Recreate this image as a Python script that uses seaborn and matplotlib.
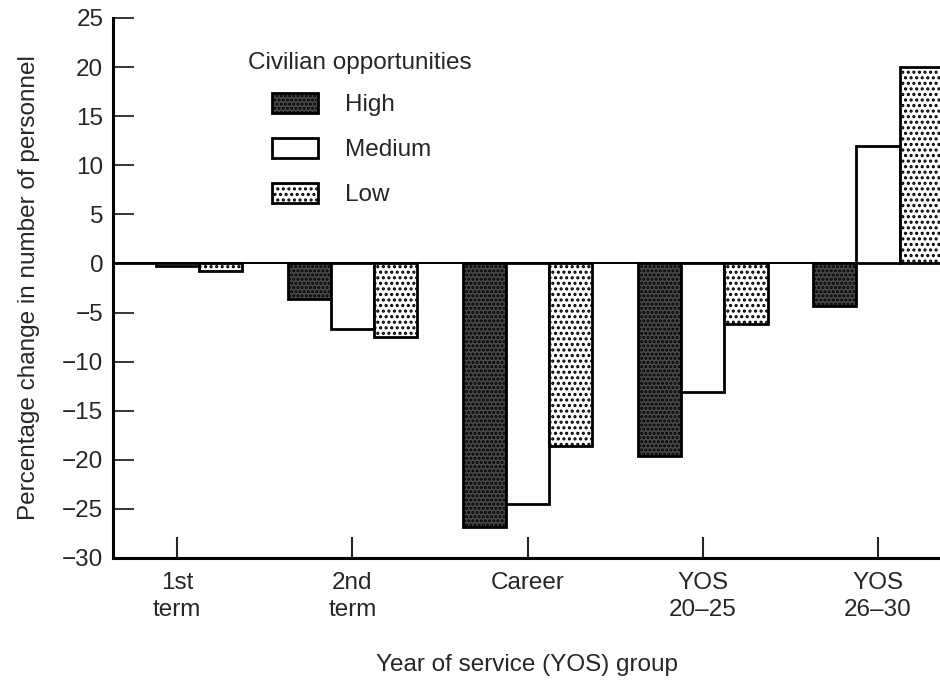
import matplotlib
matplotlib.use("Agg")
import matplotlib.pyplot as plt
import seaborn as sns
import pandas as pd

categories = ["1st\nterm", "2nd\nterm", "Career", "YOS\n20\u201325", "YOS\n26\u201330"]
levels = ["High", "Medium", "Low"]
high = [0.0, -3.6, -26.8, -19.6, -4.3]
medium = [-0.3, -6.7, -24.5, -13.1, 12.0]
low = [-0.8, -7.5, -18.6, -6.2, 20.0]
y_ticks = [25, 20, 15, 10, 5, 0, -5, -10, -15, -20, -25, -30]

sns.set_theme(style="white")
plt.rcParams["font.family"] = ["Liberation Sans", "DejaVu Sans"]
plt.rcParams["hatch.linewidth"] = 1.5

FS = 17.5

rows = []
for lvl, vals in zip(levels, [high, medium, low]):
    for c, v in zip(categories, vals):
        rows.append({"group": c, "change": v, "opp": lvl})
df = pd.DataFrame(rows)

fig = plt.figure(figsize=(9.4, 6.83), dpi=100)
ax = fig.add_axes([113 / 940, 1 - 558 / 683, (940 - 113) / 940, (558 - 18) / 683])

palette = {"High": "#4a4a4a", "Medium": "white", "Low": "white"}
sns.barplot(data=df, x="group", y="change", hue="opp", order=categories,
            hue_order=levels, palette=palette, saturation=1, width=0.74,
            edgecolor="black", linewidth=2.0, ax=ax, legend=False, zorder=3)

hatches = {"High": "....", "Medium": "", "Low": "..."}
for cont, lvl in zip(ax.containers, levels):
    for p in cont.patches:
        p.set_hatch(hatches[lvl])

ax.axhline(0, color="black", lw=1.4, zorder=2)
ax.set_xlim(-0.366, 4.354)
ax.set_ylim(-30, 25)
ax.set_yticks(y_ticks)
ax.set_yticklabels([str(t).replace("-", "\u2212") for t in y_ticks])

for side in ["top", "right"]:
    ax.spines[side].set_visible(False)
for side in ["left", "bottom"]:
    ax.spines[side].set_linewidth(2.2)
    ax.spines[side].set_color("black")

ax.tick_params(axis="y", direction="in", length=15, width=1.3, labelsize=FS, pad=7, left=True)
ax.tick_params(axis="x", direction="in", length=15, width=1.5, labelsize=FS, pad=10, bottom=True)
for t in ax.get_xticklabels():
    t.set_linespacing(1.3)
    t.set_verticalalignment("top")

ax.set_xlabel("Year of service (YOS) group", fontsize=FS, labelpad=24)
ax.set_ylabel("Percentage change in number of personnel", fontsize=FS, labelpad=16)

handles = [cont.patches[0] for cont in ax.containers]
leg = ax.legend(handles, levels, loc="upper left",
                bbox_to_anchor=(272 / 940, 1 - 93 / 683), bbox_transform=fig.transFigure,
                frameon=False, fontsize=FS,
                handlelength=1.9, handleheight=0.9, labelspacing=0.88,
                handletextpad=1.1, borderaxespad=0, borderpad=0)
for h in leg.legend_handles:
    h.set_linewidth(2.0)
fig.text(248 / 940, 1 - 63 / 683, "Civilian opportunities", fontsize=FS,
         ha="left", va="center")

fig.savefig("out.png", dpi=100, facecolor="white")
